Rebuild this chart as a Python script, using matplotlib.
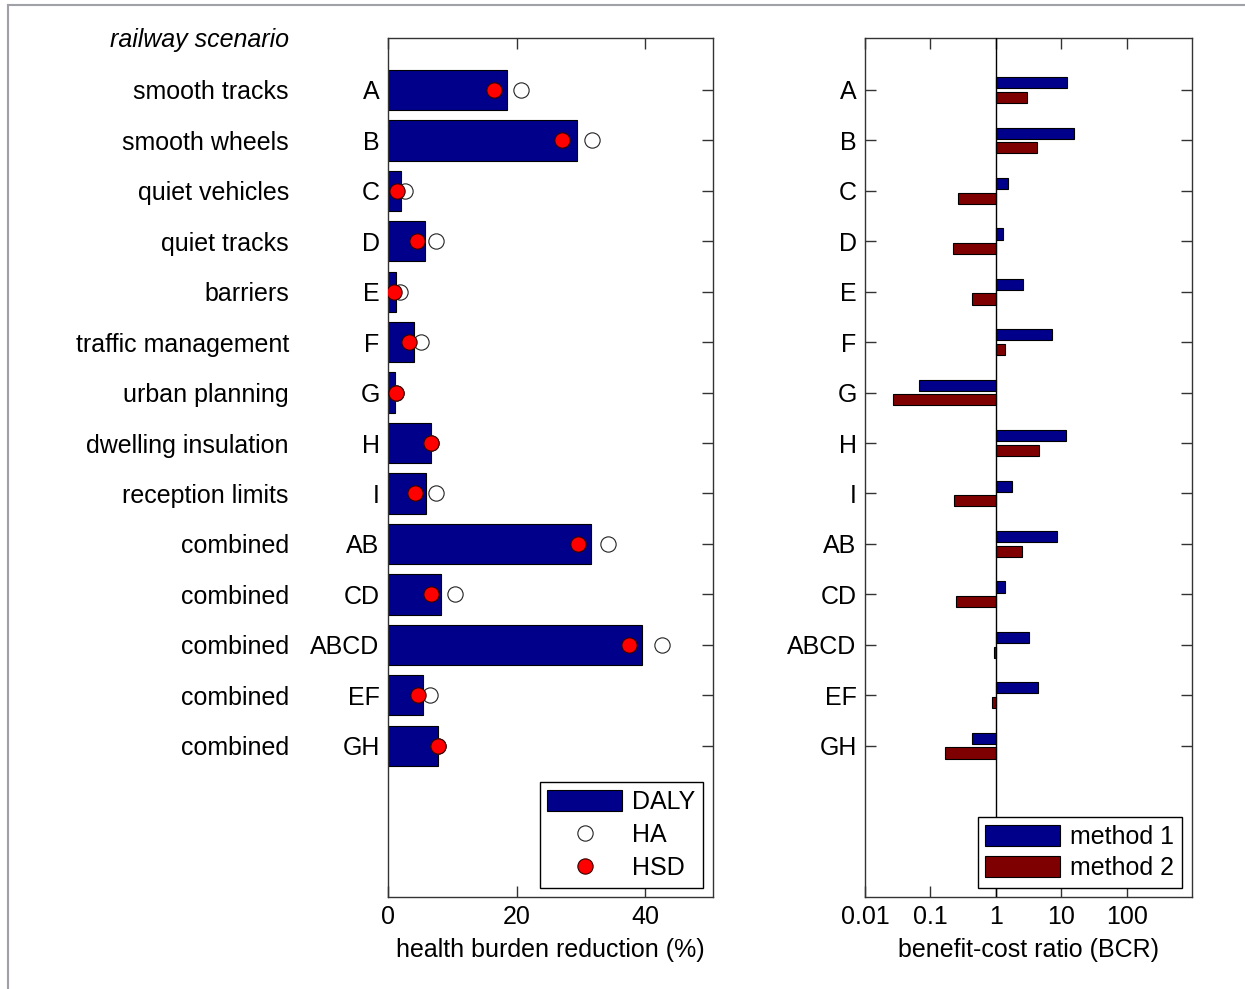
import numpy as np
import matplotlib
matplotlib.use('Agg')
import matplotlib.pyplot as plt
from matplotlib.lines import Line2D

plt.rcParams['font.family'] = ['Liberation Sans', 'DejaVu Sans']

###---data---###
codes = ['A', 'B', 'C', 'D', 'E', 'F', 'G', 'H', 'I', 'AB', 'CD', 'ABCD', 'EF', 'GH']
names = ['smooth tracks', 'smooth wheels', 'quiet vehicles', 'quiet tracks', 'barriers',
         'traffic management', 'urban planning', 'dwelling insulation', 'reception limits',
         'combined', 'combined', 'combined', 'combined', 'combined']
daly = [18.5, 29.3, 2.0, 5.8, 1.3, 4.0, 1.1, 6.7, 5.9, 31.6, 8.2, 39.5, 5.4, 7.8]
ha = [20.7, 31.7, 2.6, 7.5, 1.9, 5.1, 1.2, 6.7, 7.5, 34.2, 10.4, 42.6, 6.5, 7.8]
hsd = [16.5, 27.1, 1.4, 4.5, 0.9, 3.3, 1.2, 6.7, 4.2, 29.6, 6.7, 37.5, 4.7, 7.8]
bcr_m1 = [12.2, 15.6, 1.53, 1.28, 2.6, 7.2, 0.066, 11.8, 1.76, 8.6, 1.37, 3.2, 4.4, 0.43]
bcr_m2 = [3.0, 4.2, 0.26, 0.22, 0.43, 1.37, 0.027, 4.5, 0.23, 2.5, 0.25, 0.93, 0.87, 0.17]

navy = '#00008b'
maroon = '#7f0000'
axcol = '#333333'
fs = 18

pos = np.arange(1, len(codes) + 1)

fig = plt.figure(figsize=(12.45, 9.89), dpi=100)

# thin frame lines (top and left) like the screenshot
fig.add_artist(Line2D([8/1245, 1], [1 - 4.5/989, 1 - 4.5/989], color='#a0a0a8', lw=1.5))
fig.add_artist(Line2D([8/1245, 8/1245], [0, 1 - 4.5/989], color='#a0a0a8', lw=1.5))

def style_axes(ax):
    for sp in ax.spines.values():
        sp.set_color(axcol)
        sp.set_linewidth(1.0)
    ax.tick_params(direction='in', length=8, width=1, color=axcol, labelsize=fs,
                   top=True, right=True, pad=6)
    ax.set_ylim(17, -0.03)
    ax.set_yticks(pos)
    ax.set_yticklabels(codes)

# left panel: health burden reduction
ax1 = fig.add_axes([388/1245, 92/989, 325/1245, 859/989])
b1 = ax1.barh(pos, daly, height=0.8, color=navy, edgecolor='black', linewidth=0.8, zorder=2)
l1, = ax1.plot(ha, pos, 'o', ms=11, mfc='white', mec='#222222', mew=0.8, ls='none', zorder=3)
l2, = ax1.plot(hsd, pos, 'o', ms=11, mfc='red', mec='#330000', mew=0.8, ls='none', zorder=4)
ax1.set_xlim(0, 50.5)
ax1.set_xticks([0, 20, 40])
style_axes(ax1)
ax1.set_xlabel('health burden reduction (%)', fontsize=fs, labelpad=6)
for p, n in zip(pos, names):
    ax1.text(-0.305, p, n, transform=ax1.get_yaxis_transform(), ha='right', va='center_baseline', fontsize=fs)
ax1.text(-0.305, -0.03, 'railway scenario', transform=ax1.get_yaxis_transform(), ha='right',
         va='center_baseline', fontsize=fs, style='italic')
leg1 = ax1.legend([b1, l1, l2], ['DALY', 'HA', 'HSD'], loc='lower right', bbox_to_anchor=(0.969, 0.0105),
                  borderaxespad=0, fontsize=fs, fancybox=False, edgecolor='black', framealpha=1,
                  handlelength=3.0, handleheight=0.95, labelspacing=0.35, borderpad=0.3,
                  handletextpad=0.4)
leg1.get_frame().set_linewidth(1.0)

# right panel: benefit-cost ratio, bars grow from 1
ax2 = fig.add_axes([865/1245, 92/989, 327/1245, 859/989])
ax2.set_xscale('log')
off = 0.145
m1 = np.array(bcr_m1)
m2 = np.array(bcr_m2)
ax2.barh(pos - off, m1 - 1, left=1, height=0.22, color=navy, edgecolor='black', linewidth=0.8,
         label='method 1', zorder=2)
ax2.barh(pos + off, m2 - 1, left=1, height=0.22, color=maroon, edgecolor='black', linewidth=0.8,
         label='method 2', zorder=2)
ax2.axvline(1, color='black', lw=1, zorder=3)
ax2.set_xlim(0.01, 1000)
ax2.set_xticks([0.01, 0.1, 1, 10, 100])
ax2.set_xticklabels(['0.01', '0.1', '1', '10', '100'])
ax2.xaxis.set_minor_locator(matplotlib.ticker.NullLocator())
style_axes(ax2)
ax2.set_xlabel('benefit-cost ratio (BCR)', fontsize=fs, labelpad=6)
leg2 = ax2.legend(loc='lower right', bbox_to_anchor=(0.969, 0.0105), borderaxespad=0, fontsize=fs,
                  fancybox=False, edgecolor='black', framealpha=1, handlelength=3.0, handleheight=0.9,
                  labelspacing=0.3, borderpad=0.3, handletextpad=0.4)
leg2.get_frame().set_linewidth(1.0)

fig.savefig('out.png', dpi=100)
